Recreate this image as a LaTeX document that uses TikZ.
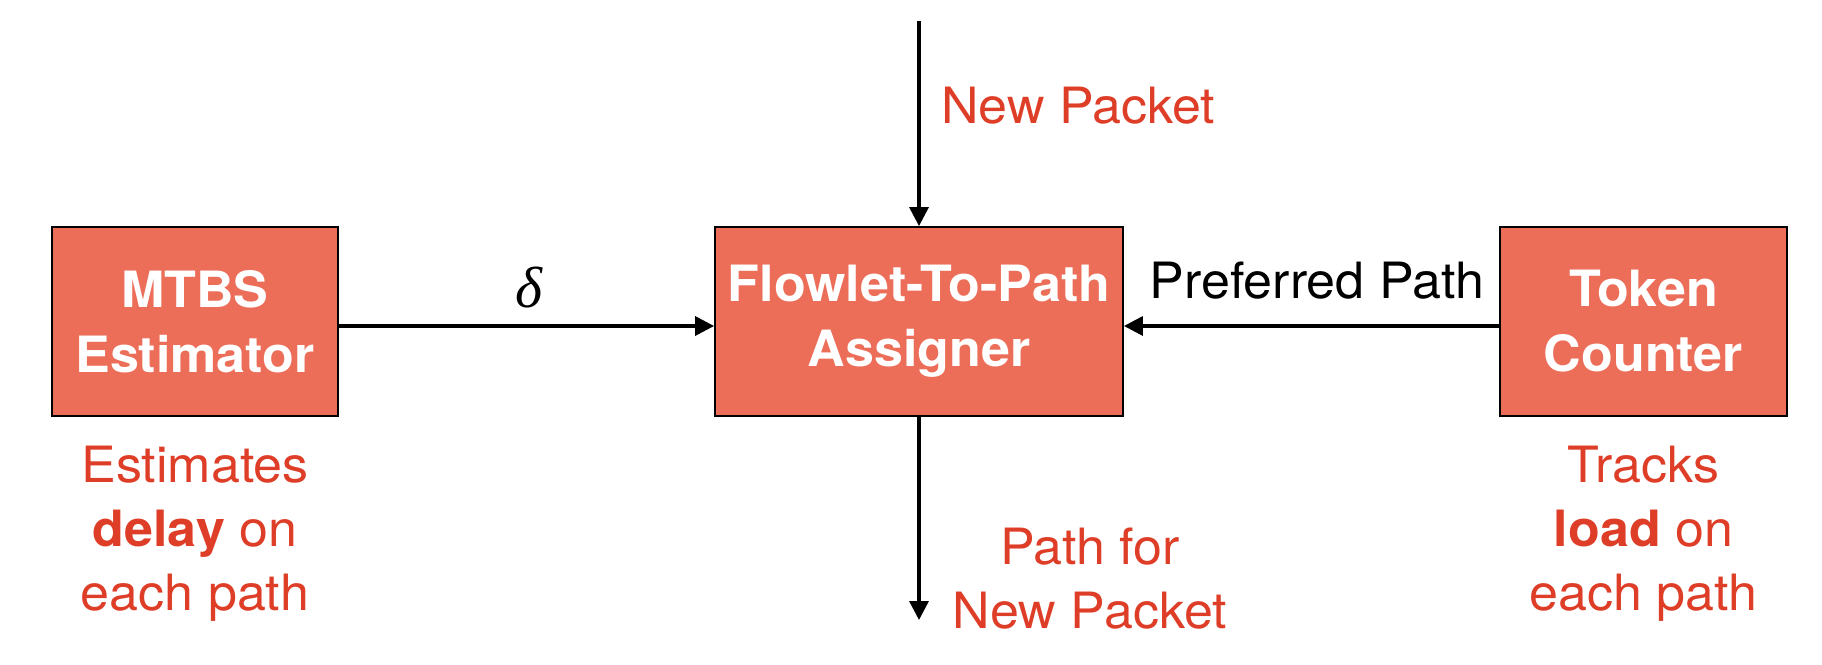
\documentclass[tikz,border=0pt]{standalone}
\usepackage{fontspec}
\setmainfont{TeX Gyre Heros}[FakeStretch=1.04]
\newfontfamily\deltafont{Liberation Serif}
\usetikzlibrary{arrows.meta}
\definecolor{boxfill}{RGB}{236,110,89}
\definecolor{labred}{RGB}{222,62,40}
\begin{document}
\begin{tikzpicture}[x=1pt,y=-1pt,
  blk/.style={draw=black,line width=1.8pt,fill=boxfill,text=white,
    font=\fontsize{50}{65}\selectfont\bfseries,align=center,inner sep=0pt,
    minimum height=189pt},
  lab/.style={font=\fontsize{50}{64}\selectfont,align=center,inner sep=0pt},
  redlab/.style={lab,text=labred},
  conn/.style={line width=3.3pt,-{Triangle[length=19pt,width=19pt]}}]
\useasboundingbox (0,0) rectangle (1822,664);
\node[blk,minimum width=286pt] (mtbs) at (195,321.5) {MTBS\\Estimator};
\node[blk,minimum width=408pt] (flow) at (919,321.5) {Flowlet-To-Path\\Assigner};
\node[blk,minimum width=287pt] (tok) at (1643.5,321.5) {Token\\Counter};
\coordinate (top) at (919,21);
\coordinate (bot) at (919,620);
\draw[conn] (top) -- (flow.north);
\draw[conn] (flow.south) -- (bot);
\draw[conn] ([yshift=-4.5pt]mtbs.east) -- ([yshift=-4.5pt]flow.west);
\draw[conn] ([yshift=-4.5pt]tok.west) -- ([yshift=-4.5pt]flow.east);
\node[font=\fontsize{58}{60}\deltafont\itshape,inner sep=0pt,anchor=base] (d) at (529,307) {δ};
\node[lab,anchor=base] (pp) at (1317,298) {Preferred Path};
\node[redlab,anchor=base west] (np) at (941,123) {New Packet};
\node[redlab,anchor=base] (pf) at (1090,628) {Path for\\New Packet};
\node[redlab,anchor=base] (est) at (195,610) {Estimates\\\textbf{delay} on\\each path};
\node[redlab,anchor=base] (trk) at (1643.5,610) {Tracks\\\textbf{load} on\\each path};
\end{tikzpicture}
\end{document}
